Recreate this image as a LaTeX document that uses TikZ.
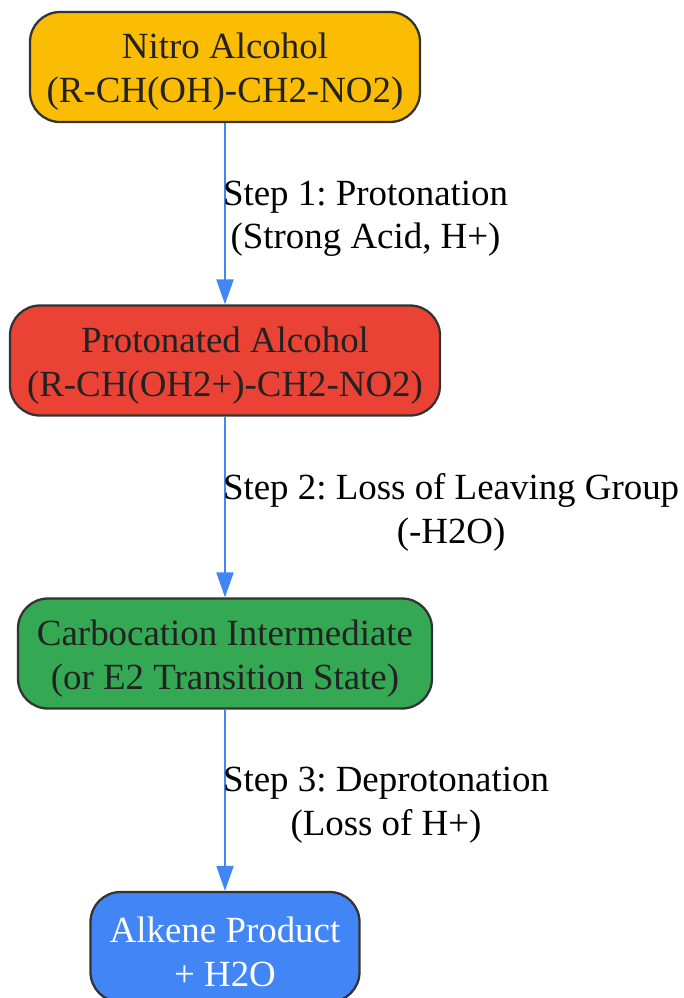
\documentclass[tikz,border=0pt]{standalone}
\usepackage{fontspec}
\setmainfont{Liberation Serif}
\usepackage{xcolor}
\usetikzlibrary{positioning,arrows.meta}
\definecolor{nitroyellow}{HTML}{FBBC04}
\definecolor{protred}{HTML}{EA4335}
\definecolor{carbgreen}{HTML}{34A853}
\definecolor{alkblue}{HTML}{4285F4}
\definecolor{edgegray}{HTML}{333333}
\definecolor{textgray}{HTML}{222222}
\newcommand{\topstrut}{\rule{0pt}{20pt}}
\frenchspacing

\begin{document}
\begin{tikzpicture}[flow/.style={-{Triangle[length=0.5cm,width=0.34cm]},draw=alkblue,line width=1.2pt},
                stage node/.style={rectangle,rounded corners=0.6cm,draw=edgegray,line width=1.3pt,
                  align=center,minimum height=2.2cm,inner sep=0pt,text=textgray,
                  font=\fontsize{21}{25}\selectfont},
                step label/.style={anchor=west,align=center,inner sep=0pt,xshift=-0.06cm,yshift=-0.1cm,
                  text=black,font=\fontsize{21}{25}\selectfont}]
\useasboundingbox (0,0) rectangle (13.68,-19.96);
%Nodes
    \node[stage node,fill=nitroyellow,minimum width=7.8cm] (nitro) at (4.5,-1.34) {\topstrut Nitro Alcohol\\(R-CH(OH)-CH2-NO2)};
    \node[stage node,fill=protred,minimum width=8.6cm] (proton) at (4.5,-7.21) {\topstrut Protonated Alcohol\\(R-CH(OH2+)-CH2-NO2)};
    \node[stage node,fill=carbgreen,minimum width=8.28cm] (carbo) at (4.5,-13.07) {\topstrut Carbocation Intermediate\\(or E2 Transition State)};
    \node[stage node,fill=alkblue,minimum width=5.38cm,text=white] (alkene) at (4.5,-18.94) {\topstrut Alkene Product\\+ H2O};
%Lines
    \draw[flow] (nitro) -- node[step label] {Step 1: Protonation\\(Strong Acid, H+)} (proton);
    \draw[flow] (proton) -- node[step label] {Step 2: Loss of Leaving Group\\(-H2O)} (carbo);
    \draw[flow] (carbo) -- node[step label] {Step 3: Deprotonation\\(Loss of H+)} (alkene);
\end{tikzpicture}
\end{document}
